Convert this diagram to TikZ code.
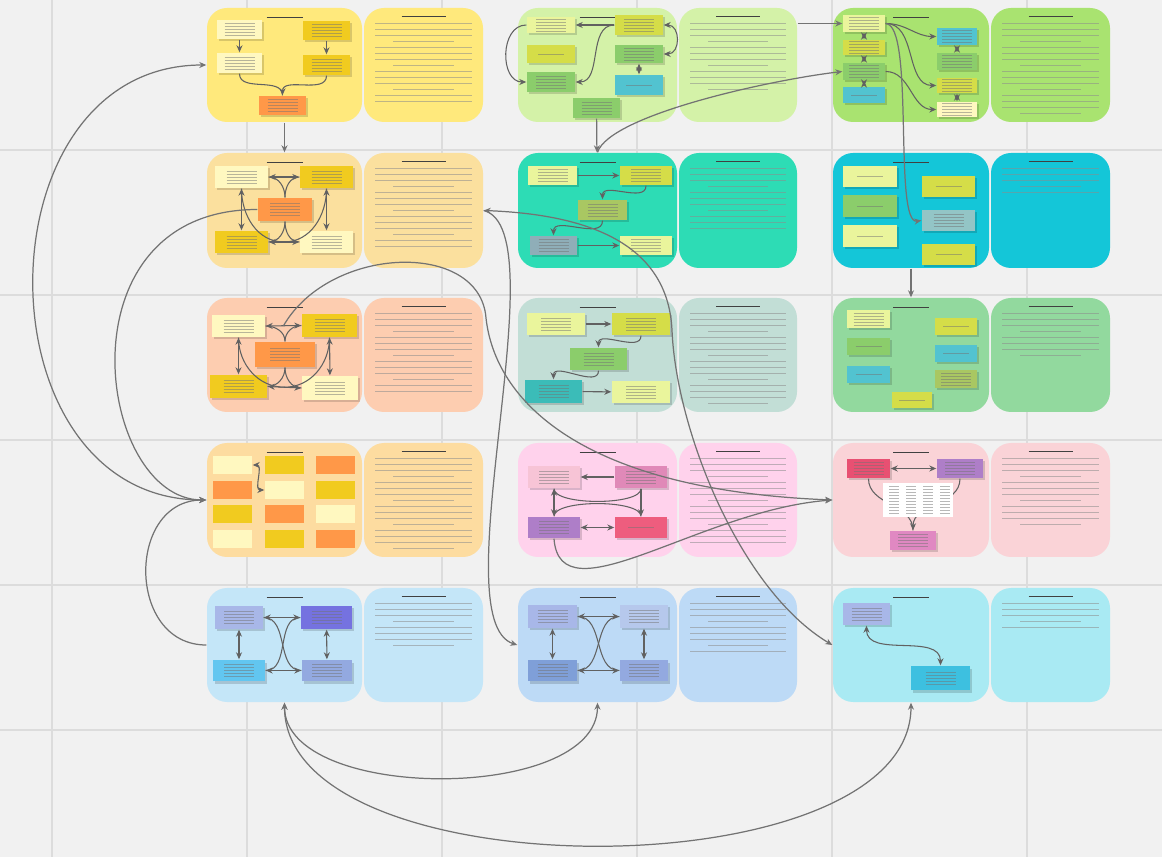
\documentclass[tikz,border=0pt]{standalone}
\usepackage{tikz}
\usetikzlibrary{arrows.meta,fit,calc,shadows}

% board colours
\definecolor{canvasgray}{HTML}{F1F1F1}
\definecolor{gridgray}{HTML}{DCDCDC}
\definecolor{bYellow}{HTML}{FFE97C}
\definecolor{bSand}{HTML}{FBE09E}
\definecolor{bPeach}{HTML}{FDCDB0}
\definecolor{bApricot}{HTML}{FDDCA0}
\definecolor{bSky}{HTML}{C4E6F8}
\definecolor{bLime}{HTML}{D4F2A8}
\definecolor{bTeal}{HTML}{2DDCB5}
\definecolor{bSage}{HTML}{C2DED6}
\definecolor{bPink}{HTML}{FFD2EC}
\definecolor{bBlue}{HTML}{BDDAF6}
\definecolor{bGreen}{HTML}{A9E370}
\definecolor{bCyan}{HTML}{14C6D8}
\definecolor{bMint}{HTML}{92D99E}
\definecolor{bRose}{HTML}{FAD3D7}
\definecolor{bAqua}{HTML}{A9EAF3}
% note colours
\definecolor{nCream}{HTML}{FFF8C0}
\definecolor{nGold}{HTML}{F1CB1F}
\definecolor{nOrange}{HTML}{FF9848}
\definecolor{nLime}{HTML}{EAF59C}
\definecolor{nOlive}{HTML}{D5DD48}
\definecolor{nGreen}{HTML}{8BCD6B}
\definecolor{nTeal}{HTML}{52C3D0}
\definecolor{nSlate}{HTML}{8FAEB8}
\definecolor{nMoss}{HTML}{A9C762}
\definecolor{nJade}{HTML}{3BBCB8}
\definecolor{nFog}{HTML}{93C5C6}
\definecolor{nBlush}{HTML}{F7C4D6}
\definecolor{nMauve}{HTML}{E089B8}
\definecolor{nPurple}{HTML}{AE7EC8}
\definecolor{nRed}{HTML}{EE5D7E}
\definecolor{nCrimson}{HTML}{E85072}
\definecolor{nOrchid}{HTML}{E088C2}
\definecolor{nLav}{HTML}{A8B7E8}
\definecolor{nViolet}{HTML}{7572E0}
\definecolor{nSky}{HTML}{62C6F0}
\definecolor{nPeri}{HTML}{93A9E0}
\definecolor{nIce}{HTML}{B6C8EC}
\definecolor{nSteel}{HTML}{7F9FD8}
\definecolor{nAzure}{HTML}{3DC0E0}

\tikzset{
  board/.style={rounded corners=2mm, inner sep=0pt, draw=none},
  card/.style={inner sep=0pt, draw=none,
    drop shadow={shadow xshift=0.15mm, shadow yshift=-0.25mm, opacity=0.15, fill=black}},
  tile/.style={inner sep=0pt, draw=none},
  wire/.style={draw=black!62, line width=0.3pt},
  link/.style={draw=black!55, line width=0.35pt},
  tip/.style={-{Stealth[length=0.7mm,width=0.6mm]}},
  tips/.style={{Stealth[length=0.7mm,width=0.6mm]}-{Stealth[length=0.7mm,width=0.6mm]}},
  textline/.style={draw=black!45, line width=0.3pt, opacity=0.55},
  noteline/.style={draw=black!55, line width=0.2pt, opacity=0.5},
  headline/.style={draw=black!75, line width=0.4pt},
}

\newcommand{\mkboard}[6]{\node[board, fill=#2, fit={(#3,#4) (#5,#6)}] (#1) {};}
\newcommand{\mkcard}[6]{\node[card, fill=#2, fit={(#3,#4) (#5,#6)}] (#1) {};}
% rows of small print on a text board
\newcommand{\boardlines}[2]{%
  \draw[headline] ($(#1.north)+(-22,9)$) -- ($(#1.north)+(22,9)$);
  \foreach \k [evaluate=\k as \w using {mod(\k,4)==0 ? 30 : 12}] in {1,...,#2}
    {\draw[textline] ($(#1.north west)+(\w,10+\k*6)$) -- ($(#1.north east)+(-\w,10+\k*6)$);}}
\newcommand{\cardlines}[1]{%
  \foreach \k in {-2,...,2}
    {\draw[noteline] ($(#1.center)+(-15,\k*3)$) -- ($(#1.center)+(15,\k*3)$);}}
\newcommand{\cardlabel}[1]{%
  \draw[noteline] ($(#1.center)+(-13,0)$) -- ($(#1.center)+(13,0)$);}

\begin{document}
\begin{tikzpicture}[x=0.1mm,y=-0.1mm]
\useasboundingbox (0,0) rectangle (1162,857);
\fill[canvasgray] (0,0) rectangle (1162,857);
\foreach \gx in {52,247,442,637,832,1027}
  \draw[gridgray,line width=0.4pt] (\gx,0) -- (\gx,857);
\foreach \gy in {150,295,440,585,730}
  \draw[gridgray,line width=0.4pt] (0,\gy) -- (1162,\gy);

% boards, row by row
\mkboard{p11}{bYellow}{207}{8}{362}{122}
\mkboard{t11}{bYellow}{364}{8}{483}{122}
\mkboard{p12}{bLime}{518}{8}{677}{122}
\mkboard{t12}{bLime}{679}{8}{797}{122}
\mkboard{p13}{bGreen}{833}{8}{989}{122}
\mkboard{t13}{bGreen}{991}{8}{1110}{122}
\mkboard{p21}{bSand}{207}{153}{362}{268}
\mkboard{t21}{bSand}{364}{153}{483}{268}
\mkboard{p22}{bTeal}{518}{153}{677}{268}
\mkboard{t22}{bTeal}{679}{153}{797}{268}
\mkboard{p23}{bCyan}{833}{153}{989}{268}
\mkboard{t23}{bCyan}{991}{153}{1110}{268}
\mkboard{p31}{bPeach}{207}{298}{362}{412}
\mkboard{t31}{bPeach}{364}{298}{483}{412}
\mkboard{p32}{bSage}{518}{298}{677}{412}
\mkboard{t32}{bSage}{679}{298}{797}{412}
\mkboard{p33}{bMint}{833}{298}{989}{412}
\mkboard{t33}{bMint}{991}{298}{1110}{412}
\mkboard{p41}{bApricot}{207}{443}{362}{557}
\mkboard{t41}{bApricot}{364}{443}{483}{557}
\mkboard{p42}{bPink}{518}{443}{677}{557}
\mkboard{t42}{bPink}{679}{443}{797}{557}
\mkboard{p43}{bRose}{833}{443}{989}{557}
\mkboard{t43}{bRose}{991}{443}{1110}{557}
\mkboard{p51}{bSky}{207}{588}{362}{702}
\mkboard{t51}{bSky}{364}{588}{483}{702}
\mkboard{p52}{bBlue}{518}{588}{677}{702}
\mkboard{t52}{bBlue}{679}{588}{797}{702}
\mkboard{p53}{bAqua}{833}{588}{989}{702}
\mkboard{t53}{bAqua}{991}{588}{1110}{702}

\foreach \b/\cnt in {t11/14,t21/14,t31/14,t41/16,t51/8,t12/12,t22/11,t32/16,
                   t42/15,t52/9,t13/16,t23/5,t33/8,t43/12,t53/5}
  {\boardlines{\b}{\cnt}}
\foreach \b in {p11,p12,p13,p21,p22,p23,p31,p32,p33,p41,p42,p43,p51,p52,p53}
  {\draw[headline] ($(\b.north)+(-18,10)$) -- ($(\b.north)+(18,10)$);}

% row 1
\mkcard{a1}{nCream}{217}{20}{262}{39}
\mkcard{a2}{nCream}{217}{53}{262}{73}
\mkcard{a3}{nGold}{303}{21}{350}{40}
\mkcard{a4}{nGold}{303}{55}{350}{75}
\mkcard{a5}{nOrange}{259}{96}{306}{115}
\draw[wire,tip] (a1) -- (a2);
\draw[wire,tip] (a3) -- (a4);
\draw[wire] (a2.south) to[out=-90,in=90] (a5.north);
\draw[wire,tip] (a4.south) to[out=-90,in=90] (a5.north);

\mkcard{b1}{nLime}{527}{17}{575}{33}
\mkcard{b2}{nOlive}{527}{45}{575}{63}
\mkcard{b3}{nGreen}{527}{72}{575}{92}
\mkcard{b4}{nOlive}{615}{15}{663}{35}
\mkcard{b5}{nGreen}{615}{45}{663}{63}
\mkcard{b6}{nTeal}{615}{75}{663}{95}
\mkcard{b7}{nGreen}{573}{98}{620}{118}
\draw[wire,tip] (b1.west) to[out=180,in=180,looseness=1.2] (b3.west);
\draw[wire,tip] (b4.west) -- (b1.east);
\draw[wire,tip] (b4.west) to[out=180,in=0] (b3.east);
\draw[wire,tips] (b4.east) to[out=0,in=0,looseness=1.5] (b5.east);
\draw[wire,tips] (b5) -- (b6);

\mkcard{c1}{nLime}{843}{15}{885}{32}
\mkcard{c2}{nOlive}{843}{40}{885}{55}
\mkcard{c3}{nGreen}{843}{63}{885}{80}
\mkcard{c4}{nTeal}{843}{87}{885}{103}
\mkcard{c5}{nTeal}{937}{28}{977}{45}
\mkcard{c6}{nGreen}{937}{53}{977}{70}
\mkcard{c7}{nOlive}{937}{78}{977}{93}
\mkcard{c8}{nCream}{937}{102}{977}{117}
\draw[wire,tips] (c1) -- (c2);
\draw[wire,tips] (c2) -- (c3);
\draw[wire,tips] (c3) -- (c4);
\draw[wire,tips] (c5) -- (c6);
\draw[wire,tips] (c7) -- (c8);
\draw[wire,tip] (c1.east) to[out=0,in=180] (c5.west);
\draw[wire,tip] (c1.east) to[out=0,in=180] (c7.west);
\draw[wire,tip] (c3.east) to[out=0,in=180] (c8.west);

% rows 2 and 3
\mkcard{d1}{nCream}{215}{166}{268}{188}
\mkcard{d2}{nGold}{300}{166}{353}{188}
\mkcard{d3}{nOrange}{258}{198}{312}{221}
\mkcard{d4}{nGold}{215}{231}{268}{253}
\mkcard{d5}{nCream}{300}{231}{353}{253}
\mkcard{f1}{nCream}{212}{315}{265}{337}
\mkcard{f2}{nGold}{302}{314}{357}{337}
\mkcard{f3}{nOrange}{255}{342}{315}{367}
\mkcard{f4}{nGold}{210}{375}{267}{398}
\mkcard{f5}{nCream}{302}{376}{358}{400}
\foreach \s in {d,f} {
  \draw[wire,tips] (\s1.east) -- (\s2.west);
  \draw[wire,tips] (\s4.east) -- (\s5.west);
  \draw[wire,tips] (\s1) -- (\s4);
  \draw[wire,tips] (\s2) -- (\s5);
  \draw[wire] (\s1.east) to[out=0,in=90] (\s3.north);
  \draw[wire] (\s2.west) to[out=180,in=90] (\s3.north);
  \draw[wire] (\s3.south) to[out=-90,in=0] (\s4.east);
  \draw[wire] (\s3.south) to[out=-90,in=180] (\s5.west);
  \draw[wire] (\s1.south) to[out=-90,in=180] ($(\s4.east)!.5!(\s5.west)$);
  \draw[wire] (\s2.south) to[out=-90,in=0] ($(\s4.east)!.5!(\s5.west)$);
}

\mkcard{g1}{nLime}{528}{166}{577}{185}
\mkcard{g2}{nOlive}{620}{166}{672}{185}
\mkcard{g3}{nMoss}{578}{200}{627}{220}
\mkcard{g4}{nSlate}{530}{236}{577}{255}
\mkcard{g5}{nLime}{620}{236}{672}{255}
\mkcard{h1}{nLime}{527}{313}{585}{335}
\mkcard{h2}{nOlive}{612}{313}{670}{335}
\mkcard{h3}{nGreen}{570}{348}{627}{370}
\mkcard{h4}{nJade}{525}{380}{582}{403}
\mkcard{h5}{nLime}{612}{381}{670}{403}
\foreach \s in {g,h} {
  \draw[wire,tip] (\s1) -- (\s2);
  \draw[wire,tip] (\s2.south) to[out=-90,in=90] (\s3.north);
  \draw[wire,tip] (\s3.south) to[out=-90,in=90] (\s4.north);
  \draw[wire,tip] (\s4) -- (\s5);
}

\mkcard{e1}{nLime}{843}{166}{897}{187}
\mkcard{e2}{nGreen}{843}{195}{897}{217}
\mkcard{e3}{nLime}{843}{225}{897}{247}
\mkcard{e4}{nOlive}{922}{176}{975}{197}
\mkcard{e5}{nFog}{922}{210}{975}{231}
\mkcard{e6}{nOlive}{922}{244}{975}{265}

\mkcard{k1}{nLime}{847}{310}{890}{328}
\mkcard{k2}{nGreen}{847}{338}{890}{355}
\mkcard{k3}{nTeal}{847}{366}{890}{383}
\mkcard{k4}{nOlive}{935}{318}{977}{335}
\mkcard{k5}{nTeal}{935}{345}{977}{362}
\mkcard{k6}{nMoss}{935}{370}{977}{388}
\mkcard{k7}{nOlive}{892}{392}{932}{408}

% row 4
\foreach \nm/\xa/\ya/\cc in {m11/213/456/nCream, m12/213/481/nOrange,
    m13/213/505/nGold, m14/213/530/nCream, m21/265/456/nGold,
    m22/265/481/nCream, m23/265/505/nOrange, m24/265/530/nGold,
    m31/316/456/nOrange, m32/316/481/nGold, m33/316/505/nCream,
    m34/316/530/nOrange}
  {\node[tile, fill=\cc, fit={(\xa,\ya) (\xa+39,\ya+18)}] (\nm) {};}
\draw[wire,tips] (m11.east) to[out=0,in=180] (m22.west);

\mkcard{q1}{nBlush}{528}{466}{580}{488}
\mkcard{q2}{nMauve}{615}{466}{667}{488}
\mkcard{q3}{nPurple}{528}{517}{580}{538}
\mkcard{q4}{nRed}{615}{517}{667}{538}
\draw[wire,tip] (q2) -- (q1);
\draw[wire,tips] (q1) -- (q3);
\draw[wire,tip] (q2) -- (q4);
\draw[wire,tips] (q3) -- (q4);
\draw[wire] (q1.south) to[out=-90,in=-90,looseness=0.5] (q2.south);
\draw[wire] (q3.north) to[out=90,in=90,looseness=0.5] (q4.north);

\mkcard{r1}{nCrimson}{847}{459}{890}{478}
\mkcard{r2}{nPurple}{937}{459}{983}{478}
\mkcard{r4}{nOrchid}{890}{531}{936}{550}
\draw[wire,tips] (r1) -- (r2);
\draw[wire] (r1.south) to[out=-90,in=90] (r4.north);
\draw[wire,tip] (r2.south) to[out=-90,in=90] (r4.north);
\node[tile, fill=white, fit={(883,483) (953,517)}] (r3) {};
\foreach \cx in {890,907,924,941} {
  \foreach \k in {0,...,9}
    {\draw[noteline] ($(r3.north west)+(\cx-883,4+\k*3)$) -- +(10,0);}
}

% row 5
\mkcard{s1}{nLav}{215}{606}{263}{629}
\mkcard{s2}{nViolet}{301}{606}{352}{629}
\mkcard{s3}{nSky}{213}{660}{265}{681}
\mkcard{s4}{nPeri}{302}{660}{352}{681}
\mkcard{u1}{nLav}{528}{605}{577}{628}
\mkcard{u2}{nIce}{620}{605}{668}{628}
\mkcard{u3}{nSteel}{528}{660}{577}{681}
\mkcard{u4}{nPeri}{620}{660}{668}{681}
\foreach \s in {s,u} {
  \draw[wire,tips] (\s1) -- (\s2);
  \draw[wire,tips] (\s1) -- (\s3);
  \draw[wire,tips] (\s2) -- (\s4);
  \draw[wire,tips] (\s3) -- (\s4);
  \draw[wire] (\s1.east) to[out=0,in=180] (\s4.west);
  \draw[wire] (\s2.west) to[out=180,in=0] (\s3.east);
}
\mkcard{v1}{nLav}{843}{603}{890}{625}
\mkcard{v2}{nAzure}{911}{666}{970}{690}
\draw[wire,tips] (v1.south) to[out=-90,in=90] (v2.north);

% small print on the cards
\foreach \c in {a1,a2,a3,a4,a5,b1,b3,b4,b5,b7,c1,c2,c3,c5,c6,c7,c8,
                d1,d2,d3,d4,d5,f1,f2,f3,f4,f5,g1,g2,g3,g4,g5,
                h1,h2,h3,h4,h5,k1,k6,q1,q2,q3,r1,r2,r4,
                s1,s2,s3,s4,u1,u2,u3,u4,v1,v2,e5}
  {\cardlines{\c}}
\foreach \c in {b2,b6,c4,e1,e2,e3,e4,e6,k2,k3,k4,k5,k7,q4}
  {\cardlabel{\c}}

% links between the boards
\draw[link,tip] (p11) -- (p21);
\draw[link,tip] (b7) -- (p22);
\draw[link,tip] (p23) -- (p33);
\draw[link,tip] (t12.east |- c1.west) -- (c1.west);
\draw[link,tip] (p22.north) .. controls (610,115) and (770,80) .. (c3.west);
\draw[link,tip] (c1.east) .. controls (915,25) and (893,225) .. (e5.west);
\draw[link,tips] (p41.west) to[out=180,in=180,out distance=23mm,in distance=23mm] (p11.west);
\draw[link,tip] (d3.west) to[out=180,in=180,out distance=20mm,in distance=11mm] (p41.west);
\draw[link,tip] (p51.west) to[out=180,in=180,out distance=8mm,in distance=8mm] (p41.west);
\coordinate (w0) at (486,318);
\draw[link,tip] ($(f1.east)!.5!(f2.west)$) .. controls (330,245) and (480,240) .. (w0)
  .. controls (495,400) and (580,490) .. (p43.west);
\coordinate (w2) at (672,330);
\draw[link,tips] (t21.east) .. controls (600,215) and (668,250) .. (w2)
  .. controls (676,430) and (740,590) .. (p53.west);
\draw[link,tip] (t21.east) .. controls (560,230) and (440,620) .. (p52.west);
\draw[link,tip] (q3.south) .. controls (560,620) and (700,510) .. (p43.west);
\draw[link,tips] (p51.south) to[out=-90,in=-90,out distance=10mm,in distance=10mm] (p52.south);
\draw[link,tips] (p51.south) to[out=-90,in=-90,out distance=19mm,in distance=19mm] (p53.south);
\end{tikzpicture}
\end{document}
